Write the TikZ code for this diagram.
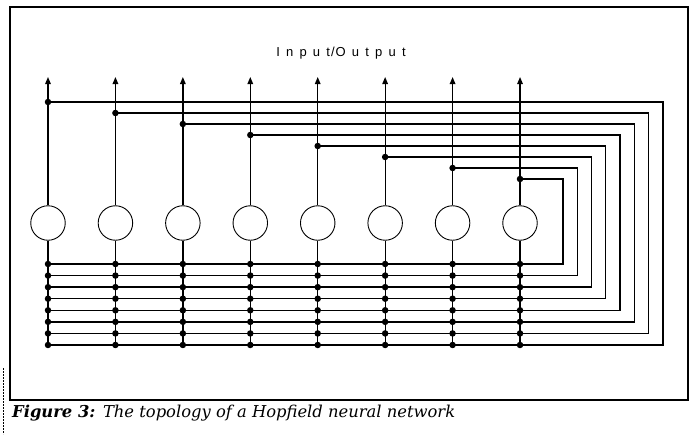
\documentclass[tikz,border=0pt]{standalone}
\usepackage{fontspec}
\setmainfont{DejaVu Serif}
\newfontfamily\labelfont{Liberation Sans}
\usetikzlibrary{arrows.meta}
\newcommand\lsp{\kern6.2pt}
\begin{document}
\begin{tikzpicture}[x=1pt,y=-1pt,
  wire/.style={line width=1.3pt},
  neuron/.style={circle,draw,line width=0.9pt,minimum size=34.5pt,inner sep=0pt},
  junction/.style={circle,fill,inner sep=0pt,minimum size=6.5pt},
  frame/.style={line width=1.5pt},
  outarrow/.style={wire,-{Triangle[width=5.5pt,length=7pt]}},
  edge/.style={line width=0.6pt,dash pattern=on 2pt off 1pt}]
\useasboundingbox (0,0) rectangle (692,434);
\draw[frame] (10,7) rectangle (688,400);
\coordinate (e1) at (3,368);
\coordinate (e2) at (3,434);
\draw[edge] (e1) -- (e2);
\node[anchor=base,inner sep=0pt] (io) at (341,56.7)
  {\labelfont\fontsize{13}{15}\selectfont I\lsp n\lsp p\lsp u\lsp t\kern1pt/\kern1pt O\lsp u\lsp t\lsp p\lsp u\lsp t};
\foreach \i in {1,...,8} {
  \pgfmathsetmacro\xx{48+67.43*(\i-1)}
  \pgfmathsetmacro\tt{102+11.0*(\i-1)}
  \pgfmathsetmacro\rr{663-14.3*(\i-1)}
  \pgfmathsetmacro\bb{264+11.57*(8-\i)}
  \node[neuron] (n\i) at (\xx,223) {};
  \coordinate (top\i) at (\xx,77);
  \coordinate (bot\i) at (\xx,345);
  \coordinate (tap\i) at (\xx,\tt);
  \coordinate (r\i) at (\rr,\tt);
  \coordinate (rb\i) at (\rr,\bb);
  \coordinate (lb\i) at (48,\bb);
  \draw[outarrow] (n\i.north) -- (top\i);
  \draw[wire] (n\i.south) -- (bot\i);
  \draw[wire] (tap\i) -- (r\i) -- (rb\i) -- (lb\i);
  \node[junction] at (tap\i) {};
}
\foreach \i in {1,...,8} {
  \foreach \k in {1,...,8} {
    \pgfmathsetmacro\xx{48+67.43*(\i-1)}
    \pgfmathsetmacro\bb{264+11.57*(\k-1)}
    \node[junction] at (\xx,\bb) {};
  }
}
\node[anchor=base west,inner sep=0pt] (cap) at (12,417)
  {\resizebox{443pt}{!}{\fontsize{13}{15}\selectfont\bfseries\itshape Figure 3: \mdseries The topology of a Hopfield neural network}};
\end{tikzpicture}
\end{document}
